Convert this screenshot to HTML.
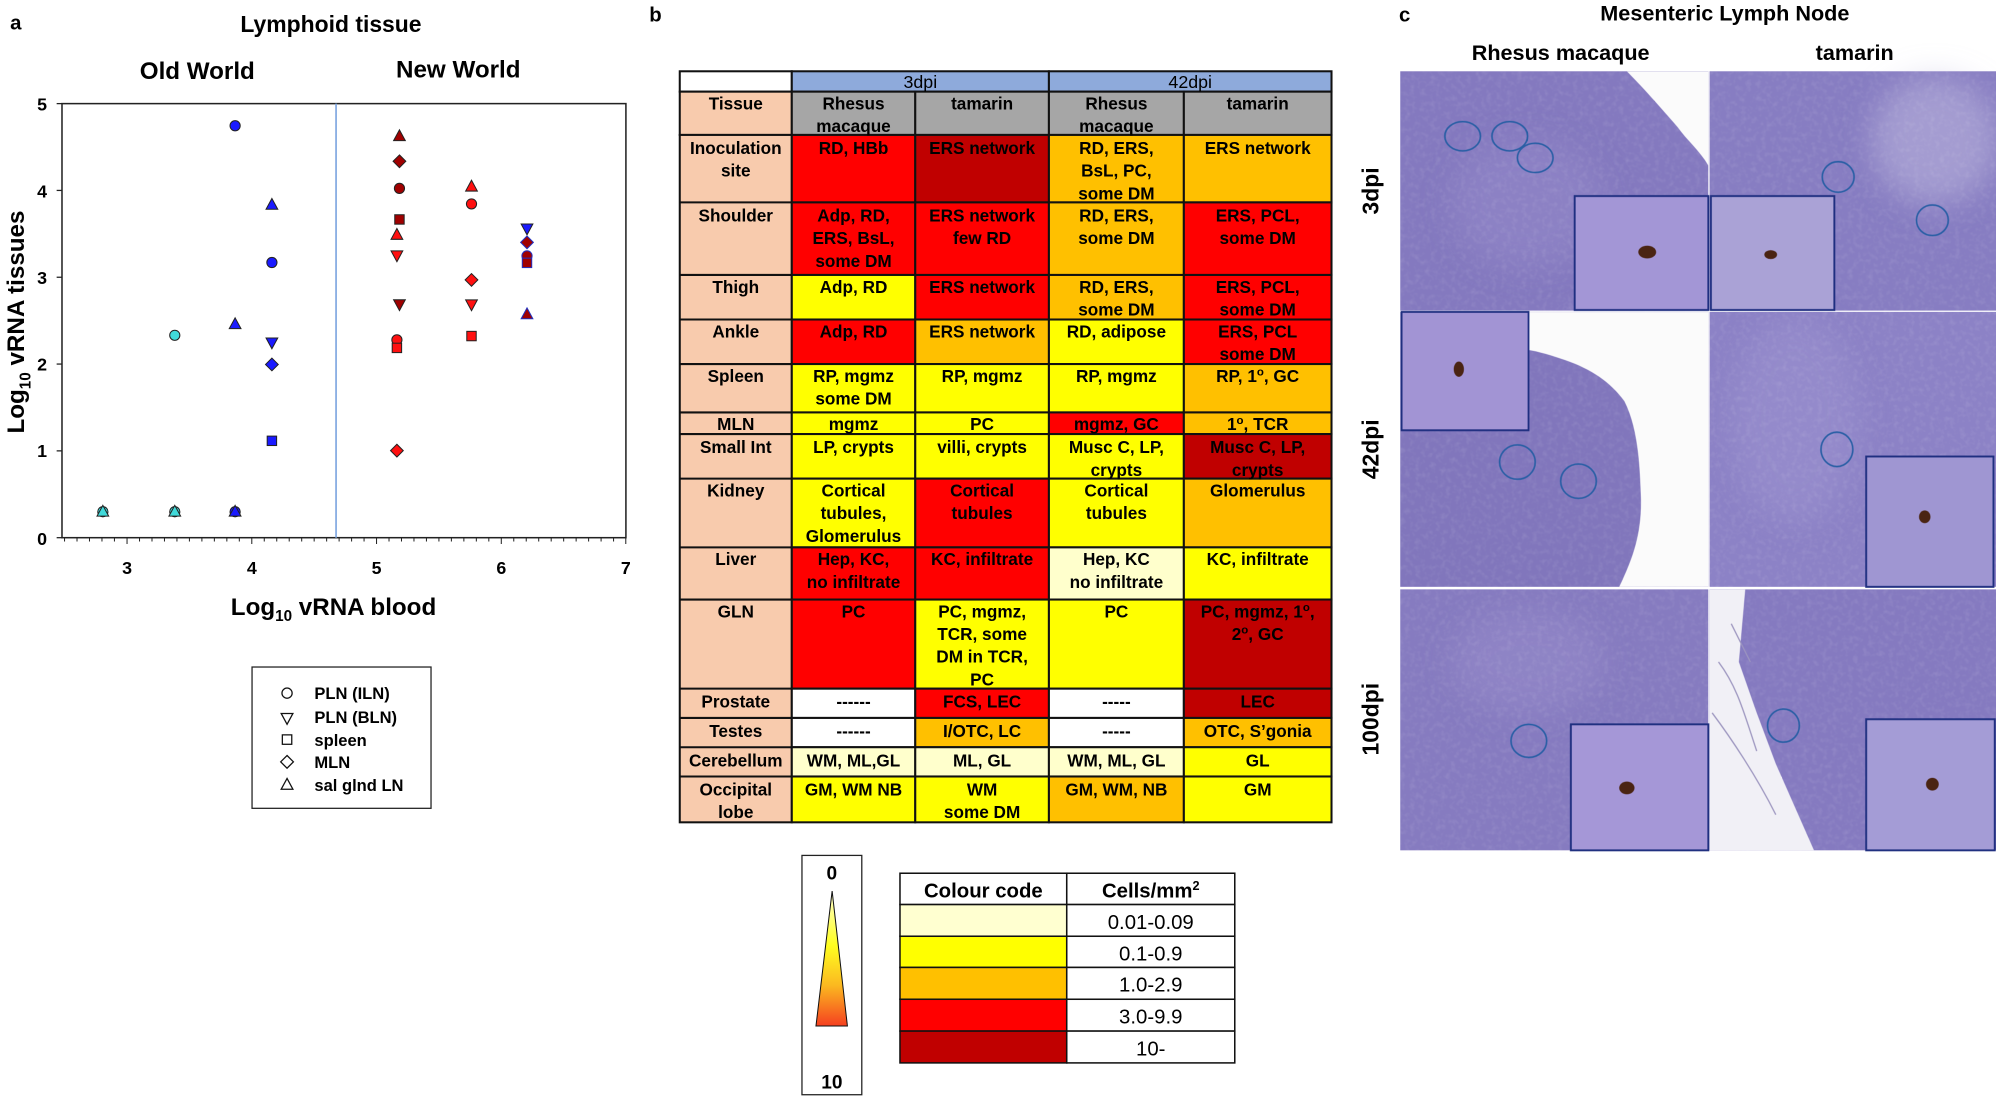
<!DOCTYPE html>
<html><head><meta charset="utf-8"><style>
html,body{margin:0;padding:0;background:#fff;width:1996px;height:1096px;overflow:hidden}
svg{display:block}
text{font-family:"Liberation Sans",Arial,sans-serif}
.b{font-weight:bold}
.t{font-weight:bold;font-size:13.5px;text-anchor:middle;fill:#000}
</style></head><body>
<svg width="1996" height="1096" viewBox="0 0 1568 861" preserveAspectRatio="none" xmlns="http://www.w3.org/2000/svg">
<defs>
<circle id="ci" r="4"/>
<rect id="sq" x="-3.7" y="-3.7" width="7.4" height="7.4"/>
<path id="di" d="M0,-5L5,0L0,5L-5,0Z"/>
<path id="tr" d="M0,-5L4.6,3.5L-4.6,3.5Z"/>
<path id="dt" d="M0,5L4.6,-3.5L-4.6,-3.5Z"/>
<linearGradient id="gr" x1="0" y1="0" x2="0" y2="1">
<stop offset="0" stop-color="#ffffd0"/><stop offset="0.4" stop-color="#ffff20"/><stop offset="0.7" stop-color="#fbb820"/><stop offset="1" stop-color="#f54020"/></linearGradient>
<filter id="tex" x="0" y="0" width="1" height="1"><feTurbulence type="fractalNoise" baseFrequency="0.25" numOctaves="2" seed="3"/><feColorMatrix values="0 0 0 0 1  0 0 0 0 1  0 0 0 0 1  0.6 0 0 0 -0.25"/></filter>
<filter id="bl"><feGaussianBlur stdDeviation="12"/></filter>
</defs>

<!-- Panel a -->
<text x="8" y="23" class="b" font-size="16">a</text>
<text x="260" y="25" class="b" font-size="18" text-anchor="middle">Lymphoid tissue</text>
<text x="155" y="62" class="b" font-size="19" text-anchor="middle">Old World</text>
<text x="360" y="61" class="b" font-size="19" text-anchor="middle">New World</text>
<rect x="48.7" y="81.4" width="443" height="341" fill="none" stroke="#222" stroke-width="1.2"/>
<line x1="264" y1="81.4" x2="264" y2="422.4" stroke="#7ea6e0" stroke-width="1.3"/>
<g stroke="#222" stroke-width="1">
<line x1="44.5" y1="81.4" x2="48.7" y2="81.4"/><line x1="44.5" y1="149.6" x2="48.7" y2="149.6"/><line x1="44.5" y1="217.8" x2="48.7" y2="217.8"/><line x1="44.5" y1="286" x2="48.7" y2="286"/><line x1="44.5" y1="354.2" x2="48.7" y2="354.2"/><line x1="44.5" y1="422.4" x2="48.7" y2="422.4"/>
</g>
<g stroke="#222" stroke-width="0.8">
<path d="M50.7,422.4v3M60.5,422.4v3M70.3,422.4v3M80.1,422.4v3M89.9,422.4v3M99.8,422.4v5M109.6,422.4v3M119.4,422.4v3M129.2,422.4v3M139,422.4v3M148.8,422.4v3M158.6,422.4v3M168.4,422.4v3M178.2,422.4v3M188,422.4v3M197.8,422.4v5M207.6,422.4v3M217.4,422.4v3M227.2,422.4v3M237,422.4v3M246.8,422.4v3M256.6,422.4v3M266.4,422.4v3M276.2,422.4v3M286,422.4v3M295.8,422.4v5M305.6,422.4v3M315.4,422.4v3M325.2,422.4v3M335,422.4v3M344.8,422.4v3M354.6,422.4v3M364.4,422.4v3M374.2,422.4v3M384,422.4v3M393.8,422.4v5M403.6,422.4v3M413.4,422.4v3M423.2,422.4v3M433,422.4v3M442.8,422.4v3M452.6,422.4v3M462.4,422.4v3M472.2,422.4v3M482,422.4v3M491.6,422.4v5"/>
</g>
<g class="b" font-size="14" text-anchor="end">
<text x="37" y="87">5</text><text x="37" y="155">4</text><text x="37" y="223">3</text><text x="37" y="291">2</text><text x="37" y="359">1</text><text x="37" y="428">0</text>
</g>
<g class="b" font-size="14" text-anchor="middle">
<text x="99.8" y="451">3</text><text x="197.8" y="451">4</text><text x="295.8" y="451">5</text><text x="393.8" y="451">6</text><text x="491.6" y="451">7</text>
</g>
<text x="262" y="483" class="b" font-size="19" text-anchor="middle">Log<tspan font-size="12" dy="5">10</tspan><tspan dy="-5"> vRNA blood</tspan></text>
<text transform="translate(19,253) rotate(-90)" class="b" font-size="19" text-anchor="middle">Log<tspan font-size="12" dy="5">10</tspan><tspan dy="-5"> vRNA tissues</tspan></text>

<g stroke="#222" stroke-width="0.8">
<use href="#ci" x="80.8" y="402" fill="#40dada"/><use href="#tr" x="80.8" y="402" fill="#40dada"/>
<use href="#ci" x="137.3" y="402" fill="#40dada"/><use href="#tr" x="137.3" y="402" fill="#40dada"/>
<use href="#ci" x="137.3" y="263.4" fill="#40dada"/>
<use href="#ci" x="184.7" y="98.8" fill="#1a1aff"/>
<use href="#tr" x="184.7" y="254.7" fill="#1a1aff"/>
<use href="#ci" x="184.7" y="402" fill="#1a1aff"/><use href="#tr" x="184.7" y="402" fill="#1a1aff"/>
<use href="#tr" x="213.6" y="160.9" fill="#1a1aff"/>
<use href="#ci" x="213.6" y="206.2" fill="#1a1aff"/>
<use href="#dt" x="213.6" y="269" fill="#1a1aff"/>
<use href="#di" x="213.6" y="286.3" fill="#1a1aff"/>
<use href="#sq" x="213.6" y="346.3" fill="#1a1aff"/>
<use href="#tr" x="313.8" y="107" fill="#a00000"/>
<use href="#di" x="313.8" y="126.7" fill="#a00000"/>
<use href="#ci" x="313.8" y="148" fill="#a00000"/>
<use href="#sq" x="313.8" y="172.4" fill="#a00000"/>
<use href="#tr" x="311.8" y="184.5" fill="#ff1010"/>
<use href="#dt" x="311.8" y="200.6" fill="#ff1010"/>
<use href="#dt" x="313.8" y="239" fill="#a00000"/>
<use href="#ci" x="311.8" y="267" fill="#ff1010"/>
<use href="#sq" x="311.8" y="273.3" fill="#ff1010"/>
<use href="#di" x="311.8" y="354" fill="#ff1010"/>
<use href="#tr" x="370.4" y="146.6" fill="#ff1010"/>
<use href="#ci" x="370.4" y="160.2" fill="#ff1010"/>
<use href="#di" x="370.4" y="219.9" fill="#ff1010"/>
<use href="#dt" x="370.4" y="239.1" fill="#ff1010"/>
<use href="#sq" x="370.4" y="264" fill="#ff1010"/>
<use href="#dt" x="414" y="179.5" fill="#1a1aff"/>
<use href="#di" x="414" y="190.4" fill="#a00000" stroke="#2030c0"/>
<use href="#ci" x="414" y="201" fill="#a00000" stroke="#2030c0"/>
<use href="#sq" x="414" y="206.5" fill="#a00000" stroke="#2030c0"/>
<use href="#tr" x="414" y="246.9" fill="#a00000" stroke="#2030c0"/>
</g>
<rect x="198" y="524" width="140.6" height="111" fill="#fff" stroke="#222" stroke-width="1"/>
<g fill="none" stroke="#111" stroke-width="1">
<use href="#ci" x="225.5" y="544.5"/><use href="#dt" x="225.5" y="564"/><use href="#sq" x="225.5" y="581"/><use href="#di" x="225.5" y="598.5"/><use href="#tr" x="225.5" y="616.5"/>
</g>
<g class="b" font-size="13">
<text x="247" y="549">PLN (ILN)</text><text x="247" y="568">PLN (BLN)</text><text x="247" y="586">spleen</text><text x="247" y="603.5">MLN</text><text x="247" y="621.5">sal glnd LN</text>
</g>

<!-- Panel b -->
<text x="510" y="17" class="b" font-size="16">b</text>
<g stroke="#111" stroke-width="1.6">
<rect x="534" y="56" width="88" height="16" fill="#fff"/>
<rect x="622" y="56" width="202" height="16" fill="#8eaadb"/>
<rect x="824" y="56" width="222" height="16" fill="#8eaadb"/>
<rect x="534" y="72" width="88" height="34" fill="#f8cbad"/>
<rect x="622" y="72" width="97" height="34" fill="#a6a6a6"/><rect x="719" y="72" width="105" height="34" fill="#a6a6a6"/><rect x="824" y="72" width="106" height="34" fill="#a6a6a6"/><rect x="930" y="72" width="116" height="34" fill="#a6a6a6"/>
<rect x="534" y="106" width="88" height="540" fill="#f8cbad"/>
<g>
<rect x="622" y="106" width="97" height="53" fill="#ff0000"/><rect x="719" y="106" width="105" height="53" fill="#c00000"/><rect x="824" y="106" width="106" height="53" fill="#ffc000"/><rect x="930" y="106" width="116" height="53" fill="#ffc000"/>
<rect x="622" y="159" width="97" height="57" fill="#ff0000"/><rect x="719" y="159" width="105" height="57" fill="#ff0000"/><rect x="824" y="159" width="106" height="57" fill="#ffc000"/><rect x="930" y="159" width="116" height="57" fill="#ff0000"/>
<rect x="622" y="216" width="97" height="35" fill="#ffff00"/><rect x="719" y="216" width="105" height="35" fill="#ff0000"/><rect x="824" y="216" width="106" height="35" fill="#ffc000"/><rect x="930" y="216" width="116" height="35" fill="#ff0000"/>
<rect x="622" y="251" width="97" height="35" fill="#ff0000"/><rect x="719" y="251" width="105" height="35" fill="#ffc000"/><rect x="824" y="251" width="106" height="35" fill="#ffff00"/><rect x="930" y="251" width="116" height="35" fill="#ff0000"/>
<rect x="622" y="286" width="97" height="38" fill="#ffff00"/><rect x="719" y="286" width="105" height="38" fill="#ffff00"/><rect x="824" y="286" width="106" height="38" fill="#ffff00"/><rect x="930" y="286" width="116" height="38" fill="#ffc000"/>
<rect x="622" y="324" width="97" height="17" fill="#ffff00"/><rect x="719" y="324" width="105" height="17" fill="#ffff00"/><rect x="824" y="324" width="106" height="17" fill="#ff0000"/><rect x="930" y="324" width="116" height="17" fill="#ffc000"/>
<rect x="622" y="341" width="97" height="35" fill="#ffff00"/><rect x="719" y="341" width="105" height="35" fill="#ffff00"/><rect x="824" y="341" width="106" height="35" fill="#ffff00"/><rect x="930" y="341" width="116" height="35" fill="#c00000"/>
<rect x="622" y="376" width="97" height="54" fill="#ffff00"/><rect x="719" y="376" width="105" height="54" fill="#ff0000"/><rect x="824" y="376" width="106" height="54" fill="#ffff00"/><rect x="930" y="376" width="116" height="54" fill="#ffc000"/>
<rect x="622" y="430" width="97" height="41" fill="#ff0000"/><rect x="719" y="430" width="105" height="41" fill="#ff0000"/><rect x="824" y="430" width="106" height="41" fill="#ffffcc"/><rect x="930" y="430" width="116" height="41" fill="#ffff00"/>
<rect x="622" y="471" width="97" height="70" fill="#ff0000"/><rect x="719" y="471" width="105" height="70" fill="#ffff00"/><rect x="824" y="471" width="106" height="70" fill="#ffff00"/><rect x="930" y="471" width="116" height="70" fill="#c00000"/>
<rect x="622" y="541" width="97" height="23" fill="#ffffff"/><rect x="719" y="541" width="105" height="23" fill="#ff0000"/><rect x="824" y="541" width="106" height="23" fill="#ffffff"/><rect x="930" y="541" width="116" height="23" fill="#c00000"/>
<rect x="622" y="564" width="97" height="23" fill="#ffffff"/><rect x="719" y="564" width="105" height="23" fill="#ffc000"/><rect x="824" y="564" width="106" height="23" fill="#ffffff"/><rect x="930" y="564" width="116" height="23" fill="#ffc000"/>
<rect x="622" y="587" width="97" height="23" fill="#ffffcc"/><rect x="719" y="587" width="105" height="23" fill="#ffffcc"/><rect x="824" y="587" width="106" height="23" fill="#ffffcc"/><rect x="930" y="587" width="116" height="23" fill="#ffff00"/>
<rect x="622" y="610" width="97" height="36" fill="#ffff00"/><rect x="719" y="610" width="105" height="36" fill="#ffff00"/><rect x="824" y="610" width="106" height="36" fill="#ffc000"/><rect x="930" y="610" width="116" height="36" fill="#ffff00"/>
</g>
<path d="M534,159H622M534,216H622M534,251H622M534,286H622M534,324H622M534,341H622M534,376H622M534,430H622M534,471H622M534,541H622M534,564H622M534,587H622M534,610H622" fill="none"/>
</g>
<g font-size="14" text-anchor="middle"><text x="723" y="69">3dpi</text><text x="935" y="69">42dpi</text></g>
<g class="t">
<text x="578" y="86">Tissue</text>
<text x="670.5" y="86">Rhesus</text><text x="670.5" y="103.8">macaque</text>
<text x="771.5" y="86">tamarin</text>
<text x="877" y="86">Rhesus</text><text x="877" y="103.8">macaque</text>
<text x="988" y="86">tamarin</text>
<text x="578" y="121">Inoculation</text><text x="578" y="138.8">site</text>
<text x="670.5" y="121">RD, HBb</text>
<text x="771.5" y="121">ERS network</text>
<text x="877" y="121">RD, ERS,</text><text x="877" y="138.8">BsL, PC,</text><text x="877" y="156.6">some DM</text>
<text x="988" y="121">ERS network</text>
<text x="578" y="174">Shoulder</text>
<text x="670.5" y="174">Adp, RD,</text><text x="670.5" y="191.8">ERS, BsL,</text><text x="670.5" y="209.6">some DM</text>
<text x="771.5" y="174">ERS network</text><text x="771.5" y="191.8">few RD</text>
<text x="877" y="174">RD, ERS,</text><text x="877" y="191.8">some DM</text>
<text x="988" y="174">ERS, PCL,</text><text x="988" y="191.8">some DM</text>
<text x="578" y="230">Thigh</text>
<text x="670.5" y="230">Adp, RD</text>
<text x="771.5" y="230">ERS network</text>
<text x="877" y="230">RD, ERS,</text><text x="877" y="247.8">some DM</text>
<text x="988" y="230">ERS, PCL,</text><text x="988" y="247.8">some DM</text>
<text x="578" y="265">Ankle</text>
<text x="670.5" y="265">Adp, RD</text>
<text x="771.5" y="265">ERS network</text>
<text x="877" y="265">RD, adipose</text>
<text x="988" y="265">ERS, PCL</text><text x="988" y="282.8">some DM</text>
<text x="578" y="300">Spleen</text>
<text x="670.5" y="300">RP, mgmz</text><text x="670.5" y="317.8">some DM</text>
<text x="771.5" y="300">RP, mgmz</text>
<text x="877" y="300">RP, mgmz</text>
<text x="988" y="300">RP, 1<tspan font-size="9" dy="-5">o</tspan><tspan dy="5">, GC</tspan></text>
<text x="578" y="338">MLN</text>
<text x="670.5" y="338">mgmz</text>
<text x="771.5" y="338">PC</text>
<text x="877" y="338">mgmz, GC</text>
<text x="988" y="338">1<tspan font-size="9" dy="-5">o</tspan><tspan dy="5">, TCR</tspan></text>
<text x="578" y="356">Small Int</text>
<text x="670.5" y="356">LP, crypts</text>
<text x="771.5" y="356">villi, crypts</text>
<text x="877" y="356">Musc C, LP,</text><text x="877" y="373.8">crypts</text>
<text x="988" y="356">Musc C, LP,</text><text x="988" y="373.8">crypts</text>
<text x="578" y="390">Kidney</text>
<text x="670.5" y="390">Cortical</text><text x="670.5" y="407.8">tubules,</text><text x="670.5" y="425.6">Glomerulus</text>
<text x="771.5" y="390">Cortical</text><text x="771.5" y="407.8">tubules</text>
<text x="877" y="390">Cortical</text><text x="877" y="407.8">tubules</text>
<text x="988" y="390">Glomerulus</text>
<text x="578" y="444">Liver</text>
<text x="670.5" y="444">Hep, KC,</text><text x="670.5" y="461.8">no infiltrate</text>
<text x="771.5" y="444">KC, infiltrate</text>
<text x="877" y="444">Hep, KC</text><text x="877" y="461.8">no infiltrate</text>
<text x="988" y="444">KC, infiltrate</text>
<text x="578" y="485">GLN</text>
<text x="670.5" y="485">PC</text>
<text x="771.5" y="485">PC, mgmz,</text><text x="771.5" y="502.8">TCR, some</text><text x="771.5" y="520.6">DM in TCR,</text><text x="771.5" y="538.4">PC</text>
<text x="877" y="485">PC</text>
<text x="988" y="485">PC, mgmz, 1<tspan font-size="9" dy="-5">o</tspan><tspan dy="5">,</tspan></text><text x="988" y="502.8">2<tspan font-size="9" dy="-5">o</tspan><tspan dy="5">, GC</tspan></text>
<text x="578" y="556">Prostate</text>
<text x="670.5" y="556">------</text>
<text x="771.5" y="556">FCS, LEC</text>
<text x="877" y="556">-----</text>
<text x="988" y="556">LEC</text>
<text x="578" y="579">Testes</text>
<text x="670.5" y="579">------</text>
<text x="771.5" y="579">I/OTC, LC</text>
<text x="877" y="579">-----</text>
<text x="988" y="579">OTC, S’gonia</text>
<text x="578" y="602">Cerebellum</text>
<text x="670.5" y="602">WM, ML,GL</text>
<text x="771.5" y="602">ML, GL</text>
<text x="877" y="602">WM, ML, GL</text>
<text x="988" y="602">GL</text>
<text x="578" y="625">Occipital</text><text x="578" y="642.8">lobe</text>
<text x="670.5" y="625">GM, WM NB</text>
<text x="771.5" y="625">WM</text><text x="771.5" y="642.8">some DM</text>
<text x="877" y="625">GM, WM, NB</text>
<text x="988" y="625">GM</text>
</g>

<rect x="630" y="672" width="47" height="188" fill="#fff" stroke="#222" stroke-width="1"/>
<text x="653.5" y="691" class="b" font-size="15" text-anchor="middle">0</text>
<path d="M653.7,700L665.7,806L641,806Z" fill="url(#gr)" stroke="#111" stroke-width="0.8"/>
<text x="653.5" y="855" class="b" font-size="15" text-anchor="middle">10</text>
<g stroke="#111" stroke-width="1.2">
<rect x="707" y="686" width="131" height="24.6" fill="#fff"/><rect x="838" y="686" width="132" height="24.6" fill="#fff"/>
<rect x="707" y="710.6" width="131" height="24.9" fill="#ffffd0"/><rect x="838" y="710.6" width="132" height="24.9" fill="#fff"/>
<rect x="707" y="735.5" width="131" height="24.5" fill="#ffff00"/><rect x="838" y="735.5" width="132" height="24.5" fill="#fff"/>
<rect x="707" y="760" width="131" height="25" fill="#ffc000"/><rect x="838" y="760" width="132" height="25" fill="#fff"/>
<rect x="707" y="785" width="131" height="25" fill="#ff0000"/><rect x="838" y="785" width="132" height="25" fill="#fff"/>
<rect x="707" y="810" width="131" height="25" fill="#c00000"/><rect x="838" y="810" width="132" height="25" fill="#fff"/>
</g>
<g font-size="16" text-anchor="middle">
<text x="772.5" y="705" class="b">Colour code</text>
<text x="904" y="705" class="b">Cells/mm<tspan font-size="10" dy="-6">2</tspan></text>
<text x="904" y="730">0.01-0.09</text>
<text x="904" y="754.5">0.1-0.9</text>
<text x="904" y="779">1.0-2.9</text>
<text x="904" y="804">3.0-9.9</text>
<text x="904" y="829">10-</text>
</g>

<!-- Panel c -->
<text x="1099" y="17" class="b" font-size="16">c</text>
<text x="1355" y="16" class="b" font-size="17" text-anchor="middle">Mesenteric Lymph Node</text>
<text x="1226" y="47" class="b" font-size="17" text-anchor="middle">Rhesus macaque</text>
<text x="1457" y="47" class="b" font-size="17" text-anchor="middle">tamarin</text>
<g class="b" font-size="18" text-anchor="middle">
<text transform="translate(1083,150) rotate(-90)">3dpi</text>
<text transform="translate(1083,353) rotate(-90)">42dpi</text>
<text transform="translate(1083,565) rotate(-90)">100dpi</text>
</g>
<rect x="1100" y="56" width="242" height="188" fill="#8479bf"/>
<rect x="1343" y="56" width="225" height="188" fill="#877dc2"/>
<rect x="1100" y="245" width="242" height="216" fill="#8176bc"/>
<rect x="1343" y="245" width="225" height="216" fill="#8c82c6"/>
<rect x="1100" y="463" width="242" height="205" fill="#867bc0"/>
<rect x="1343" y="463" width="225" height="205" fill="#857ac0"/>
<g filter="url(#bl)">
<ellipse cx="1200" cy="160" rx="60" ry="50" fill="#a096d0" opacity="0.3"/>
<ellipse cx="1520" cy="110" rx="50" ry="50" fill="#c2bbe0" opacity="0.5"/>
<ellipse cx="1410" cy="330" rx="50" ry="80" fill="#a49ad4" opacity="0.35"/>
<ellipse cx="1200" cy="520" rx="60" ry="40" fill="#a198d2" opacity="0.3"/>
</g>
<rect x="1100" y="56" width="468" height="612" filter="url(#tex)" opacity="0.35"/>
<path d="M1278,56L1342,56L1342,130C1335,118 1325,110 1318,100C1305,85 1290,68 1278,56Z" fill="#fbfbfb"/>
<path d="M1201,245L1342,245L1342,461L1272,461C1282,440 1290,420 1289,390C1288,360 1286,335 1276,315C1265,300 1250,290 1230,283C1218,279 1208,276 1201,275Z" fill="#fbfbfb"/>
<path d="M1343,463L1371,463L1366,520L1380,560L1395,600L1425,668L1343,668Z" fill="#f1f0f6"/>
<path d="M1350,520C1365,540 1370,560 1380,590M1345,560C1360,580 1380,610 1395,640M1360,490L1375,520" stroke="#9c95bf" stroke-width="1" fill="none"/>
<g stroke="#1f2f80" stroke-width="1.5">
<rect x="1237" y="154" width="105" height="89.5" fill="#a396d6"/>
<rect x="1344" y="154" width="97" height="89.5" fill="#aaa2d6"/>
<rect x="1101" y="245" width="99.7" height="93" fill="#a294d4"/>
<rect x="1466" y="358.6" width="100" height="102.4" fill="#9f96d2"/>
<rect x="1234" y="569" width="108" height="99" fill="#a597d7"/>
<rect x="1466" y="565" width="101" height="103" fill="#a49cd6"/>
</g>
<g fill="#4a2412">
<ellipse cx="1294" cy="198" rx="7" ry="5"/>
<ellipse cx="1391" cy="200" rx="5" ry="3.5"/>
<ellipse cx="1146" cy="290" rx="4" ry="6"/>
<ellipse cx="1512" cy="406" rx="4.5" ry="5"/>
<ellipse cx="1278" cy="619" rx="6" ry="5"/>
<ellipse cx="1518" cy="616" rx="5" ry="5"/>
</g>
<g fill="none" stroke="#2a5fa5" stroke-width="1.3">
<ellipse cx="1149" cy="107" rx="14" ry="11.5"/>
<ellipse cx="1186" cy="107" rx="14" ry="11.5"/>
<ellipse cx="1206" cy="124" rx="14" ry="11.5"/>
<ellipse cx="1444" cy="139" rx="12.5" ry="12"/>
<ellipse cx="1518" cy="173" rx="12.5" ry="12"/>
<ellipse cx="1192" cy="363" rx="14" ry="13.5"/>
<ellipse cx="1240" cy="378" rx="14" ry="13.5"/>
<ellipse cx="1443" cy="353" rx="12.5" ry="13.5"/>
<ellipse cx="1201" cy="582" rx="14" ry="13"/>
<ellipse cx="1401" cy="570" rx="12.5" ry="13"/>
</g>
</svg>
</body></html>
